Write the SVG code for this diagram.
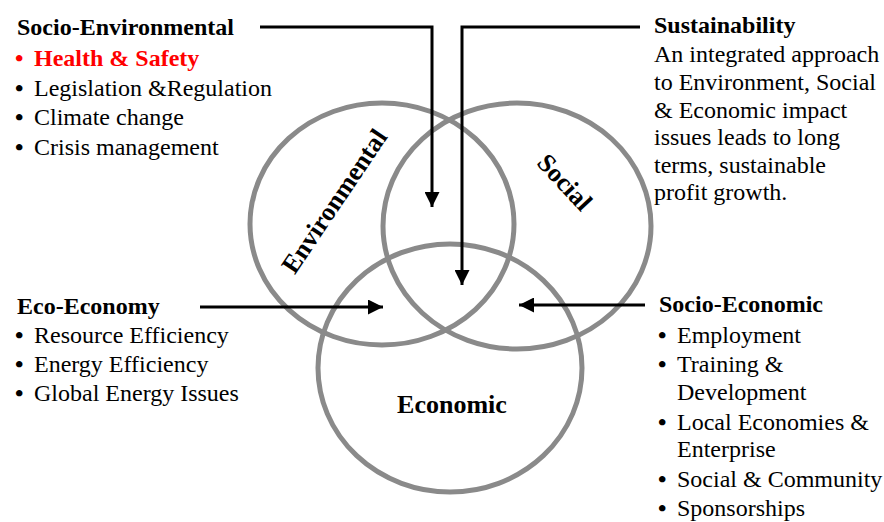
<svg xmlns="http://www.w3.org/2000/svg" width="884" height="522" viewBox="0 0 884 522">
<defs>
<marker id="ah" viewBox="0 0 10 10" refX="10" refY="5" markerWidth="5" markerHeight="5" markerUnits="strokeWidth" orient="auto">
<path d="M0,0 L10,5 L0,10 z" fill="#000"/>
</marker>
<style>
.t{font-family:"Liberation Serif","Times New Roman",serif;font-size:24px;fill:#000}
.b{font-weight:bold}
.red{fill:#ff0000}
.bu{font-weight:bold}
.c{fill:none;stroke:#8a8a8a;stroke-width:5}
.lbl{font-family:"Liberation Serif","Times New Roman",serif;font-size:26px;font-weight:bold;fill:#000}
.a{fill:none;stroke:#000;stroke-width:3;marker-end:url(#ah)}
</style>
</defs>
<rect width="884" height="522" fill="#fff"/>
<g id="environmental">
<ellipse class="c" cx="382" cy="224" rx="132" ry="121"/>
<text class="lbl" transform="translate(334,201) rotate(-56)" text-anchor="middle" dy="9">Environmental</text>
</g>
<g id="social">
<ellipse class="c" cx="517" cy="226" rx="134" ry="123"/>
<text class="lbl" transform="translate(565,182) rotate(47)" text-anchor="middle" dy="9">Social</text>
</g>
<g id="economic">
<ellipse class="c" cx="450" cy="368" rx="132" ry="124"/>
<text class="lbl" x="452" y="413" text-anchor="middle">Economic</text>
</g>
<g id="connectors">
<polyline class="a" points="260,27 432,27 432,207"/>
<polyline class="a" points="640,27 462,27 462,285"/>
<line class="a" x1="200" y1="307" x2="383" y2="307"/>
<line class="a" x1="645" y1="305" x2="519" y2="305"/>
</g>
<g id="socio-environmental">
<text class="t b" x="17" y="35">Socio-Environmental</text>
<text class="t b red" x="15" y="66">•<tspan x="34">Health &amp; Safety</tspan></text>
<text class="t" x="15" y="96"><tspan class="bu">•</tspan><tspan x="34">Legislation &amp;Regulation</tspan></text>
<text class="t" x="15" y="125"><tspan class="bu">•</tspan><tspan x="34">Climate change</tspan></text>
<text class="t" x="15" y="155"><tspan class="bu">•</tspan><tspan x="34">Crisis management</tspan></text>
</g>
<g id="sustainability">
<text class="t b" x="654" y="33">Sustainability</text>
<text class="t" x="654" y="62">An integrated approach</text>
<text class="t" x="654" y="90">to Environment, Social</text>
<text class="t" x="654" y="118">&amp; Economic impact</text>
<text class="t" x="654" y="145">issues leads to long</text>
<text class="t" x="654" y="173">terms, sustainable</text>
<text class="t" x="654" y="200">profit growth.</text>
</g>
<g id="eco-economy">
<text class="t b" x="17" y="314">Eco-Economy</text>
<text class="t" x="15" y="343"><tspan class="bu">•</tspan><tspan x="34">Resource Efficiency</tspan></text>
<text class="t" x="15" y="372"><tspan class="bu">•</tspan><tspan x="34">Energy Efficiency</tspan></text>
<text class="t" x="15" y="401"><tspan class="bu">•</tspan><tspan x="34">Global Energy Issues</tspan></text>
</g>
<g id="socio-economic">
<text class="t b" x="659" y="312">Socio-Economic</text>
<text class="t" x="658" y="343"><tspan class="bu">•</tspan><tspan x="677">Employment</tspan></text>
<text class="t" x="658" y="372"><tspan class="bu">•</tspan><tspan x="677">Training &amp;</tspan></text>
<text class="t" x="677" y="400">Development</text>
<text class="t" x="658" y="430"><tspan class="bu">•</tspan><tspan x="677">Local Economies &amp;</tspan></text>
<text class="t" x="677" y="457">Enterprise</text>
<text class="t" x="658" y="487"><tspan class="bu">•</tspan><tspan x="677">Social &amp; Community</tspan></text>
<text class="t" x="658" y="516"><tspan class="bu">•</tspan><tspan x="677">Sponsorships</tspan></text>
</g>
</svg>
